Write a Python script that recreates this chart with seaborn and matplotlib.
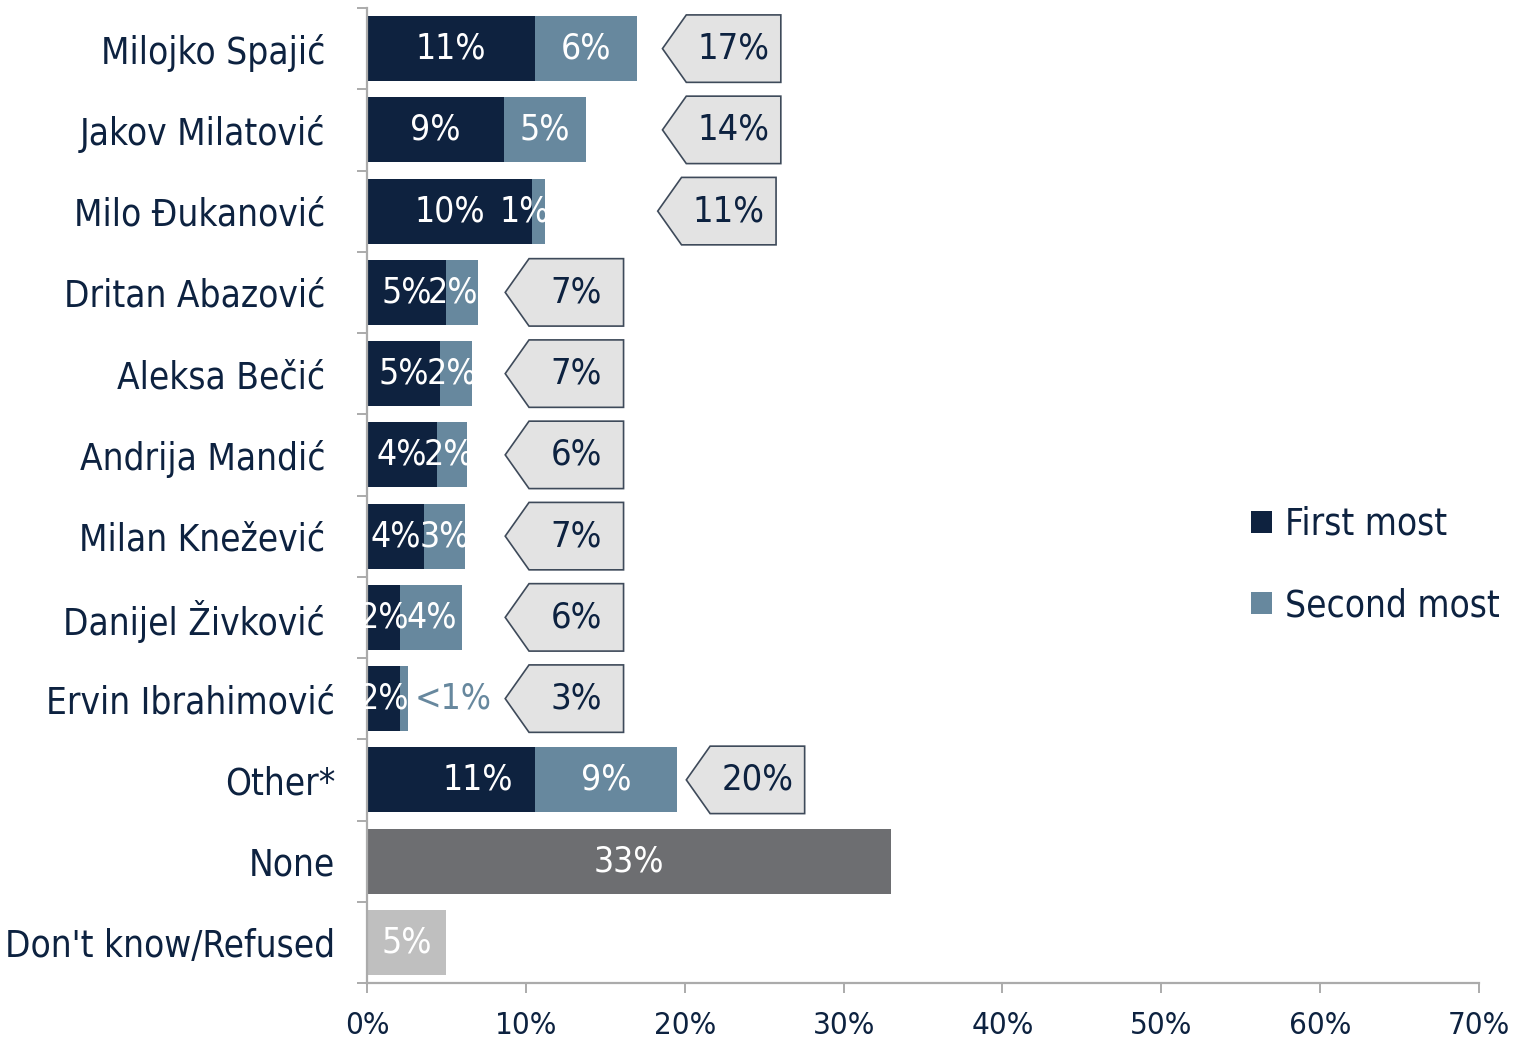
import numpy as np
import pandas as pd
import seaborn as sns
import matplotlib.pyplot as plt
from matplotlib.patches import Polygon, Patch
from matplotlib.transforms import ScaledTranslation

# ---- data -------------------------------------------------------------
categories = ["Milojko Spajić", "Jakov Milatović", "Milo Đukanović",
              "Dritan Abazović", "Aleksa Bečić", "Andrija Mandić",
              "Milan Knežević", "Danijel Živković", "Ervin Ibrahimović",
              "Other*", "None", "Don't know/Refused"]
candidates = categories[:10]
first_most = [10.6, 8.6, 10.4, 5.0, 4.6, 4.4, 3.6, 2.1, 2.1, 10.6]
second_most = [6.4, 5.2, 0.8, 2.0, 2.0, 1.9, 2.6, 3.9, 0.5, 8.9]
combined_total = [17, 14, 11, 7, 7, 6, 7, 6, 3, 20]
none_share = 33.0
dont_know_share = 5.0
x_ticks = [0, 10, 20, 30, 40, 50, 60, 70]
x_tick_labels = [f"{t}%" for t in x_ticks]

# ---- style ------------------------------------------------------------
NAVY = "#0e223f"
STEEL = "#67889e"
GREY = "#6d6e71"
LIGHT = "#bfbfbf"
TEXT = "#0d2240"
AXIS = "#ababab"

sns.set_theme(style="white")
plt.rcParams["font.family"] = ["DejaVu Sans"]
plt.rcParams["font.stretch"] = "condensed"

W, H = 1518, 1037
fig = plt.figure(figsize=(W / 100, H / 100), dpi=100)
ax = fig.add_axes([367 / W, 1 - 983 / H, (1479 - 367) / W, (983 - 8) / H])

# back layer: full bar length (first + second, or single value)
back = pd.DataFrame({
    "category": categories,
    "value": [f + s for f, s in zip(first_most, second_most)] + [none_share, dont_know_share],
})
back_colors = {c: STEEL for c in candidates}
back_colors["None"] = GREY
back_colors["Don't know/Refused"] = LIGHT
sns.barplot(data=back, x="value", y="category", hue="category", order=categories,
            hue_order=categories, palette=back_colors, legend=False, width=0.8,
            saturation=1, linewidth=0, ax=ax)

# front layer: first most
front = pd.DataFrame({"category": candidates, "value": first_most})
sns.barplot(data=front, x="value", y="category", order=categories, color=NAVY,
            width=0.8, saturation=1, linewidth=0, ax=ax)

ax.set_xlim(0, 70)
ax.set_ylim(11.5, -0.5)
ax.set_xlabel("")
ax.set_ylabel("")

# ---- value labels inside bars ----------------------------------------
nudge_first = {9: 27}
nudge_second = {2: -14, 3: -9, 4: -4, 5: -3}
lab_fs = 25.5
for i, (f, s) in enumerate(zip(first_most, second_most)):
    off = ScaledTranslation(nudge_first.get(i, 0) / 100, 0, fig.dpi_scale_trans)
    ax.text(f / 2, i, f"{f:.0f}%", color="white", fontsize=lab_fs,
            ha="center", va="center", transform=ax.transData + off)
    if s < 0.75:
        off = ScaledTranslation(6 / 100, 0, fig.dpi_scale_trans)
        ax.text(f + s, i, "<1%", color=STEEL, fontsize=lab_fs,
                ha="left", va="center", transform=ax.transData + off)
    else:
        off = ScaledTranslation(nudge_second.get(i, 0) / 100, 0, fig.dpi_scale_trans)
        ax.text(f + s / 2, i, f"{s:.0f}%", color="white", fontsize=lab_fs,
                ha="center", va="center", transform=ax.transData + off)

ax.text(none_share / 2, 10, f"{none_share:.0f}%", color="white", fontsize=lab_fs,
        ha="center", va="center")
ax.text(dont_know_share / 2, 11, f"{dont_know_share:.0f}%", color="white",
        fontsize=lab_fs, ha="center", va="center")

# ---- arrow callouts with the combined share ---------------------------
callout_left = [18.6, 18.6, 18.3, 8.7, 8.7, 8.7, 8.7, 8.7, 8.7, 20.1]
box_w, notch, box_h = 7.45, 1.5, 0.83
for i, (x0, tot) in enumerate(zip(callout_left, combined_total)):
    y0, y1 = i - box_h / 2, i + box_h / 2
    poly = Polygon([(x0, i), (x0 + notch, y0), (x0 + box_w, y0),
                    (x0 + box_w, y1), (x0 + notch, y1)], closed=True,
                   facecolor="#e3e3e3", edgecolor="#3e4a5a", linewidth=1.2,
                   clip_on=False, zorder=3)
    ax.add_patch(poly)
    ax.text(x0 + notch + (box_w - notch) / 2, i, f"{tot}%", color=TEXT,
            fontsize=26, ha="center", va="center", zorder=4)

# ---- axes styling ------------------------------------------------------
for side in ["top", "right"]:
    ax.spines[side].set_visible(False)
for side in ["left", "bottom"]:
    ax.spines[side].set_color(AXIS)
    ax.spines[side].set_linewidth(1.6)

ax.set_xticks(x_ticks)
ax.set_xticklabels(x_tick_labels)
ax.tick_params(axis="x", which="major", length=7, width=1.4, color=AXIS,
               direction="out", bottom=True, labelsize=22.5, labelcolor=TEXT, pad=13)

ax.set_yticks(range(len(categories)))
ax.set_yticklabels(categories)
ax.set_yticks(np.arange(-0.5, len(categories), 1.0), minor=True)
ax.tick_params(axis="y", which="major", length=0, pad=23, labelsize=26.5, labelcolor=TEXT)
ax.tick_params(axis="y", which="minor", length=7.5, width=1.4, color=AXIS,
               direction="out", left=True)

# first eight names sit slightly further from the axis
shift = ScaledTranslation(-10 / 100, 0, fig.dpi_scale_trans)
for k, lbl in enumerate(ax.get_yticklabels()):
    if k < 8:
        lbl.set_transform(lbl.get_transform() + shift)

# ---- legend ------------------------------------------------------------
handles = [Patch(facecolor=NAVY, edgecolor="none"), Patch(facecolor=STEEL, edgecolor="none")]
leg = fig.legend(handles, ["First most", "Second most"], loc="center left",
                 bbox_to_anchor=(1233 / W, 1 - 565 / H), frameon=False,
                 fontsize=26.5, handlelength=0.55, handleheight=0.55,
                 handletextpad=0.35, labelspacing=1.2, borderpad=0)
for t in leg.get_texts():
    t.set_color(TEXT)

fig.savefig("out.png", dpi=100)
